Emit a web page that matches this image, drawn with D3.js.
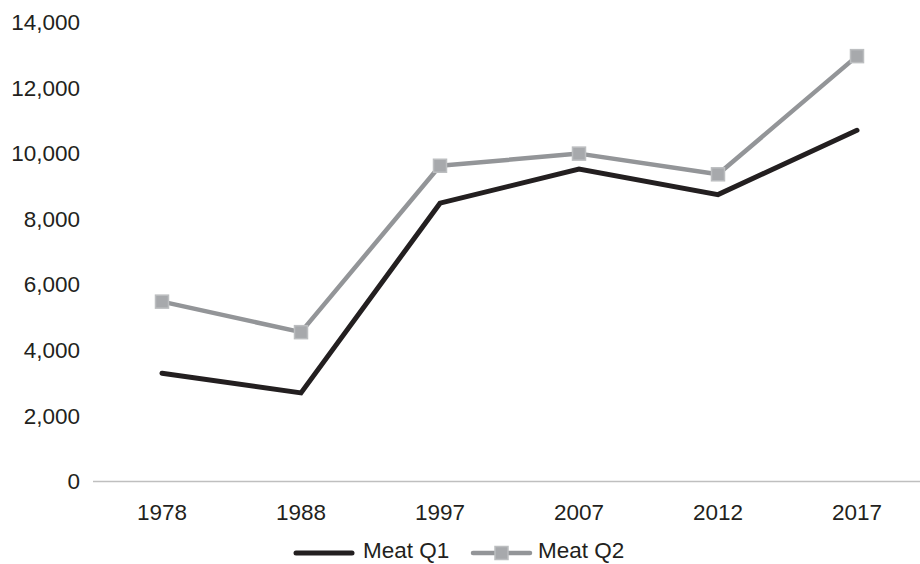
<!DOCTYPE html>
<html>
<head>
<meta charset="utf-8">
<script src="https://cdn.jsdelivr.net/npm/d3@7"></script>
<style>
  html, body { margin: 0; padding: 0; background: #fff; }
  svg { display: block; font-family: "Liberation Sans", Arial, Helvetica, sans-serif; }
</style>
</head>
<body>
<svg id="chart" width="920" height="564"></svg>
<script>
const categories = ["1978", "1988", "1997", "2007", "2012", "2017"];
const meatQ1 = [3300, 2700, 8480, 9520, 8740, 10700];
const meatQ2 = [5480, 4550, 9620, 9990, 9360, 12960];
const yTicks = [0, 2000, 4000, 6000, 8000, 10000, 12000, 14000];
const seriesNames = ["Meat Q1", "Meat Q2"];

const svg = d3.select("#chart");
const W = 920, H = 564;
const textColor = "#231f20";
const q1Color = "#231f20";
const q2Color = "#939598";
const markerFill = "#a7a9ac";
const markerStroke = "#bcbec0";
const fontSize = 22.5;

const x = d3.scaleBand().domain(categories).range([92.5, 926.5]).padding(0);
const y = d3.scaleLinear().domain([0, 14000]).range([481.5, 22]);

// x axis baseline
svg.append("line")
  .attr("x1", 93).attr("x2", W)
  .attr("y1", y(0)).attr("y2", y(0))
  .attr("stroke", "#bfbfbf").attr("stroke-width", 1.5);

// y tick labels
const fmt = d3.format(",");
svg.append("g").selectAll("text").data(yTicks).join("text")
  .attr("x", 80)
  .attr("y", d => y(d))
  .attr("dy", "0.35em")
  .attr("text-anchor", "end")
  .attr("font-size", fontSize)
  .attr("fill", textColor)
  .text(d => fmt(d));

// x labels
svg.append("g").selectAll("text").data(categories).join("text")
  .attr("x", d => x(d) + x.bandwidth() / 2)
  .attr("y", 512.5)
  .attr("dy", "0.35em")
  .attr("text-anchor", "middle")
  .attr("font-size", fontSize)
  .attr("fill", textColor)
  .text(d => d);

const cx = d => x(d) + x.bandwidth() / 2;
const line = d3.line().x((d, i) => cx(categories[i])).y(d => y(d));

svg.append("path").datum(meatQ2)
  .attr("d", line)
  .attr("fill", "none").attr("stroke", q2Color)
  .attr("stroke-width", 4.5).attr("stroke-linejoin", "round");

svg.append("g").selectAll("rect").data(meatQ2).join("rect")
  .attr("x", (d, i) => cx(categories[i]) - 6.5)
  .attr("y", d => y(d) - 6.5)
  .attr("width", 13).attr("height", 13)
  .attr("fill", markerFill).attr("stroke", markerStroke).attr("stroke-width", 1.5);

svg.append("path").datum(meatQ1)
  .attr("d", line)
  .attr("fill", "none").attr("stroke", q1Color)
  .attr("stroke-width", 5).attr("stroke-linejoin", "miter").attr("stroke-linecap", "round");

// legend
const ly = 553;
const lg = svg.append("g");
lg.append("line").attr("x1", 296).attr("x2", 352).attr("y1", ly).attr("y2", ly)
  .attr("stroke", q1Color).attr("stroke-width", 5).attr("stroke-linecap", "round");
lg.append("text").attr("x", 363).attr("y", 558).attr("font-size", fontSize)
  .attr("fill", textColor).text(seriesNames[0]);
lg.append("line").attr("x1", 473).attr("x2", 530).attr("y1", ly).attr("y2", ly)
  .attr("stroke", q2Color).attr("stroke-width", 4.5).attr("stroke-linecap", "round");
lg.append("rect").attr("x", 501.5 - 6.5).attr("y", ly - 6.5).attr("width", 13).attr("height", 13)
  .attr("fill", markerFill).attr("stroke", markerStroke).attr("stroke-width", 1.5);
lg.append("text").attr("x", 538).attr("y", 558).attr("font-size", fontSize)
  .attr("fill", textColor).text(seriesNames[1]);
</script>
</body>
</html>
